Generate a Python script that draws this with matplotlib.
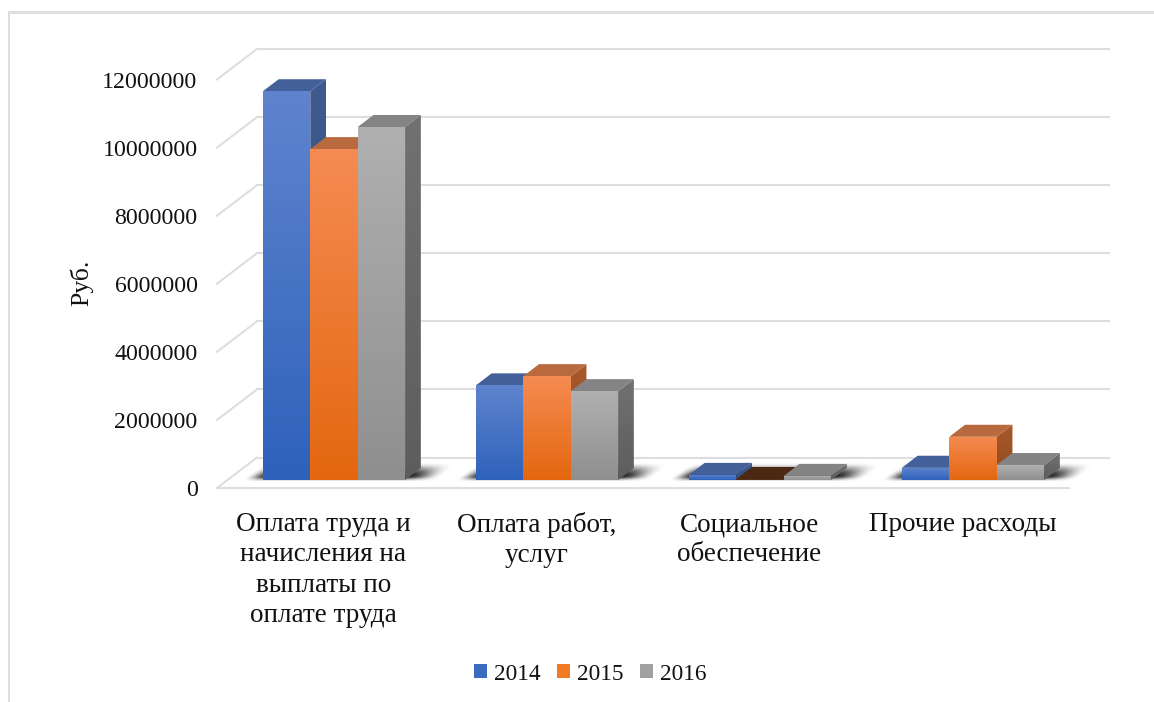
import numpy as np
import matplotlib
matplotlib.use("Agg")
import matplotlib.pyplot as plt
from matplotlib.colors import to_rgb
from matplotlib.lines import Line2D
from matplotlib.patches import Patch, Polygon, Rectangle

# Data
categories = ["Оплата труда и\nначисления на\nвыплаты по\nоплате труда",
              "Оплата работ,\nуслуг",
              "Социальное\nобеспечение",
              "Прочие расходы"]
years = ["2014", "2015", "2016"]
values_2014 = [11420000, 2780000, 150000, 360000]
values_2015 = [9720000, 3050000, 30000, 1270000]
values_2016 = [10370000, 2610000, 120000, 440000]
y_ticks = [0, 2000000, 4000000, 6000000, 8000000, 10000000, 12000000]

series = [values_2014, values_2015, values_2016]

# front / top / side colours per series
front_top = ["#5F84CE", "#F58B52", "#B0B0B0"]
front_bottom = ["#2E62BB", "#E4670F", "#8F8F8F"]
top_face = ["#44609A", "#B8693E", "#848484"]
side_top = ["#3F5A8E", "#A9592C", "#717171"]
side_bottom = ["#2F4F85", "#8F4A1E", "#5D5D5D"]
legend_colors = ["#3A6BC0", "#F37A25", "#A0A0A0"]
grid_color = "#DEDEDE"

plt.rcParams["font.family"] = ["Liberation Serif", "DejaVu Serif"]

W, H = 1154, 702
fig = plt.figure(figsize=(W / 100, H / 100), dpi=100)
fig.patch.set_facecolor("white")

# Front plane of the fake 3D box, placed in pixels
left, right, y_0, y_12 = 217, 1069, 488, 79.5
ax = fig.add_axes([left / W, 1 - y_0 / H, (right - left) / W, (y_0 - y_12) / H])
ax.set_xlim(-0.5, 3.5)
ax.set_ylim(0, 12000000)
ax.patch.set_alpha(0)
for s in ax.spines.values():
    s.set_visible(False)

PX_X = 4 / (right - left)
PX_Y = 12000000 / (y_0 - y_12)
DEPTH_X = 40 * PX_X
DEPTH_Y = 30.5 * PX_Y
Z_FRONT = 0.262
Z_BACK = 0.656
BAR_W = 47.4 * PX_X


def project(x, y, z):
    return x + z * DEPTH_X, y + z * DEPTH_Y


def gradient_poly(verts, c_top, c_bottom, zorder):
    xs, ys = zip(*verts)
    ramp = np.linspace(0, 1, 64)[:, None, None]
    img = np.array(to_rgb(c_top))[None, None, :] * (1 - ramp) + np.array(to_rgb(c_bottom))[None, None, :] * ramp
    im = ax.imshow(img, extent=(min(xs), max(xs), min(ys), max(ys)), aspect="auto",
                   interpolation="bilinear", zorder=zorder, origin="upper")
    im.set_clip_path(Polygon(verts, closed=True, transform=ax.transData))
    im.set_clip_box(fig.bbox)


def smooth(t):
    t = np.clip(t, 0, 1)
    return t * t * (3 - 2 * t)


def draw_shadow(x_left, x_right, zorder):
    # soft shadow on the floor behind a group of bars
    _, y_base = project(0, 0, Z_FRONT)
    x0, x1 = x_left - 50 * PX_X, x_right + 70 * PX_X
    y0, y1 = y_base - 4 * PX_Y, y_base + 22 * PX_Y
    xx, yy = np.meshgrid(np.linspace(x0, x1, 300), np.linspace(y1, y0, 50))
    yp = (yy - y_base) / PX_Y
    u = (xx - x_left) / PX_X - yp * 16 / 12
    width = (x_right - x_left) / PX_X
    a_x = smooth((u + 22) / 22) * smooth((width + 32 - u) / 34)
    a_y = smooth((yp + 2) / 6) * smooth((18 - yp) / 14)
    rgba = np.zeros(xx.shape + (4,))
    rgba[..., 3] = 0.85 * a_x * a_y
    im = ax.imshow(rgba, extent=(x0, x1, y0, y1), aspect="auto", interpolation="bilinear",
                   zorder=zorder, origin="upper")
    im.set_clip_box(fig.bbox)


# Walls and floor
for v in y_ticks:
    bx, by = project(-0.5, v, 1)
    ex, _ = project(3.5, v, 1)
    for xd, yd in (([bx, ex], [by, by]), ([-0.5, bx], [v, by])):
        ax.add_line(Line2D(xd, yd, color=grid_color, lw=1.5, zorder=1, clip_on=False))
ax.add_line(Line2D([-0.5, 3.5], [0, 0], color=grid_color, lw=1.5, zorder=1, clip_on=False))

# Bars, left to right so the later ones cover the side of the earlier ones
z = 3
for i in range(len(categories)):
    group_left = i - 1.5 * BAR_W
    draw_shadow(project(group_left, 0, Z_FRONT)[0], project(group_left + 3 * BAR_W, 0, Z_FRONT)[0], 2)
    for j, vals in enumerate(series):
        v = vals[i]
        x0 = group_left + j * BAR_W
        x1 = x0 + BAR_W
        fl = project(x0, 0, Z_FRONT)
        fr = project(x1, 0, Z_FRONT)
        ftl = project(x0, v, Z_FRONT)
        ftr = project(x1, v, Z_FRONT)
        bl = project(x0, v, Z_BACK)
        br = project(x1, v, Z_BACK)
        bb = project(x1, 0, Z_BACK)
        # the tiny 2015 bar in the third group sits in the shadow
        dark = v < 50000
        gradient_poly([fr, ftr, br, bb], side_top[j], side_bottom[j], z)
        ax.add_patch(Polygon([ftl, ftr, br, bl], closed=True, fc="#4A2812" if dark else top_face[j],
                             ec="none", zorder=z + 0.1, clip_on=False))
        gradient_poly([fl, ftl, ftr, fr], "#5A3014" if dark else front_top[j],
                      "#5A3014" if dark else front_bottom[j], z + 0.2)
        z += 1

ax.set_xlim(-0.5, 3.5)
ax.set_ylim(0, 12000000)

# Axis text
ax.set_xticks(range(len(categories)))
ax.set_xticklabels(categories, fontsize=19.5, linespacing=1.27, color="#111111")
ax.set_yticks(y_ticks)
ax.set_yticklabels([str(t) for t in y_ticks], fontsize=17.2, color="#111111")
ax.tick_params(axis="x", length=0, pad=17.5)
ax.tick_params(axis="y", length=0, pad=14)
fig.text(82 / W, 1 - 283 / H, "Руб.", rotation=90, ha="center", va="center", fontsize=18.5, color="#111111")

handles = [Patch(fc=c, ec="none", label=y) for c, y in zip(legend_colors, years)]
fig.legend(handles=handles, loc="center", bbox_to_anchor=(590 / W, 1 - 674 / H), ncol=3, frameon=False,
           fontsize=16.8, handlelength=0.54, handleheight=0.54, handletextpad=0.3, columnspacing=0.72,
           labelcolor="#111111")

# Frame remains of the original screenshot
fig.add_artist(Rectangle((7.5 / W, 0), 2.5 / W, 1 - 12 / H, transform=fig.transFigure, fc=grid_color, ec="none"))
fig.add_artist(Rectangle((7.5 / W, 1 - 13.5 / H), 1 - 7.5 / W, 2.5 / H, transform=fig.transFigure, fc=grid_color, ec="none"))

fig.savefig("out.png", dpi=100)
